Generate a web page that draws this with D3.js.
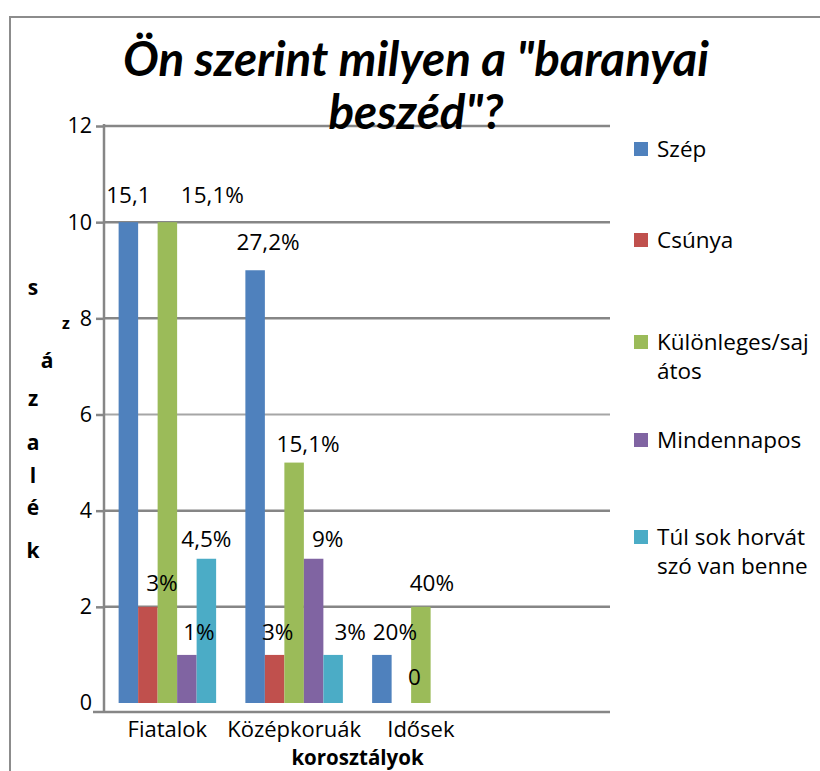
<!DOCTYPE html>
<html>
<head>
<meta charset="utf-8">
<script src="https://cdn.jsdelivr.net/npm/d3@7"></script>
<style>
  html, body { margin: 0; padding: 0; background: #ffffff; }
  svg { display: block; }
</style>
</head>
<body>
<script>
// ---------- DATA ----------
const categories = ["Fiatalok", "Középkoruák", "Idősek", ""];
const series = ["Szép", "Csúnya", "Különleges/sajátos", "Mindennapos", "Túl sok horvát szó van benne"];
const szep        = [10, 9, 1];
const csunya      = [2, 1, 0];
const kulonleges  = [10, 5, 2];
const mindennapos = [1, 3, 0];
const tulSok      = [3, 1, 0];
const szepLabels        = ["15,1", "27,2%", "20%"];
const csunyaLabels      = ["3%", "3%", "0"];
const kulonlegesLabels  = ["15,1%", "15,1%", "40%"];
const mindennaposLabels = ["1%", "9%", ""];
const tulSokLabels      = ["4,5%", "3%", ""];
const yTicks = [0, 2, 4, 6, 8, 10, 12];
const titleLines = ["Ön szerint milyen a \"baranyai", "beszéd\"?"];
const xTitle = "korosztályok";
const yTitleLetters = ["s", "z", "á", "z", "a", "l", "é", "k"];

// ---------- LAYOUT (not data) ----------
const colors = ["#4F81BD", "#C0504D", "#9BBB59", "#8064A2", "#4BACC6"];
// manual label nudges [dx, dy] relative to bar center / bar top
const labelNudge = [
  [[0, -27], [13, -28], [13, -23]],
  [[14, -24], [3, -23], [13, -26]],
  [[45, -27], [14, -19], [11, -24]],
  [[12, -23], [14, -20], [0, -23]],
  [[0, -20], [17, -23], [0, -23]]
];
const yTitlePos = [[33, 287, 21], [66, 323, 16], [47, 360, 21], [33, 398, 21], [33, 442, 21], [33, 475, 21], [33, 507, 21], [33, 550, 21]];
const legendBaselines = [157, 248, 350, 448, 545];

const values = [szep, csunya, kulonleges, mindennapos, tulSok];
const labels = [szepLabels, csunyaLabels, kulonlegesLabels, mindennaposLabels, tulSokLabels];

const W = 820, H = 771;
const FONT = "'Open Sans', 'DejaVu Sans', sans-serif";
const FS = 22.5;
const plotL = 104, plotR = 611, axisY = 712;

const svg = d3.select("body").append("svg").attr("width", W).attr("height", H)
  .style("font-family", FONT);

// outer border
svg.append("path").attr("d", `M10,${H} L10,17 L${W},17`)
  .attr("fill", "none").attr("stroke", "#8c8c8c").attr("stroke-width", 2);

const x0 = d3.scaleBand().domain(categories).range([plotL, plotR]);
const x1 = d3.scaleBand().domain(series).range([0, x0.bandwidth()]).paddingOuter(0.75);
const y = d3.scaleLinear().domain([0, 12]).range([703, 126]);

// gridlines
svg.append("g").selectAll("line").data(yTicks.filter(v => v > 0)).join("line")
  .attr("x1", plotL).attr("x2", plotR - 1)
  .attr("y1", d => y(d)).attr("y2", d => y(d))
  .attr("stroke", d => d === 6 ? "#a6a6a6" : "#868686")
  .attr("stroke-width", d => d === 6 ? 2 : 2.5);

// title
const title = svg.append("text").attr("text-anchor", "middle")
  .style("font-weight", "bold").style("font-style", "italic")
  .style("font-family", "Lato, 'Open Sans', sans-serif").attr("fill", "#000");
titleLines.forEach((t, i) => {
  title.append("tspan").attr("x", 416).attr("y", 76 + i * 53).text(t);
});
title.style("font-size", "40px");
const firstW = title.select("tspan").node().getComputedTextLength();
title.style("font-size", (40 * 586 / firstW).toFixed(2) + "px");

// bars
const groups = svg.append("g").selectAll("g").data(series).join("g")
  .attr("fill", (d, i) => colors[i]);
groups.each(function (s, si) {
  const g = d3.select(this);
  values[si].forEach((v, ci) => {
    const cx = x0(categories[ci]) + x1(s);
    g.append("rect").attr("x", cx).attr("width", x1.bandwidth())
      .attr("y", y(v)).attr("height", y(0) - y(v));
  });
});

// data labels
series.forEach((s, si) => {
  values[si].forEach((v, ci) => {
    const txt = labels[si][ci];
    if (!txt) return;
    const cx = x0(categories[ci]) + x1(s) + x1.bandwidth() / 2;
    const [dx, dy] = labelNudge[si][ci];
    svg.append("text").attr("x", cx + dx).attr("y", y(v) + dy)
      .attr("dy", "0.36em").attr("text-anchor", "middle")
      .style("font-size", FS + "px").attr("fill", "#000").text(txt);
  });
});

// y axis
const yAxis = svg.append("g").attr("transform", `translate(${plotL},0)`)
  .call(d3.axisLeft(y).tickValues(yTicks).tickSize(8).tickPadding(4).tickFormat(d3.format("d")));
yAxis.select(".domain").remove();
yAxis.selectAll(".tick line").attr("stroke", "#868686").attr("stroke-width", 2.5)
  .filter(d => d === 0).remove();
yAxis.selectAll(".tick text").style("font-size", "21.5px").style("font-family", FONT).attr("fill", "#000");
svg.append("line").attr("x1", plotL).attr("x2", plotL).attr("y1", y(12) - 2).attr("y2", axisY)
  .attr("stroke", "#868686").attr("stroke-width", 2.5);

// x axis
const xAxis = svg.append("g").attr("transform", `translate(0,${axisY})`)
  .call(d3.axisBottom(x0).tickSize(0).tickPadding(9));
xAxis.select(".domain").remove();
xAxis.selectAll(".tick text").style("font-size", "22px").style("font-family", FONT).attr("fill", "#000");
svg.append("line").attr("x1", 93).attr("x2", plotR - 1).attr("y1", axisY).attr("y2", axisY)
  .attr("stroke", "#868686").attr("stroke-width", 2.5);

// axis titles
svg.append("text").attr("x", (plotL + plotR) / 2).attr("y", 764.5).attr("text-anchor", "middle")
  .style("font-size", "20.5px").style("font-weight", "bold").attr("fill", "#000").text(xTitle);
yTitleLetters.forEach((ch, i) => {
  const [lx, ly, fs] = yTitlePos[i];
  svg.append("text").attr("x", lx).attr("y", ly).attr("dy", "0.36em").attr("text-anchor", "middle")
    .style("font-size", fs + "px").style("font-weight", "bold").attr("fill", "#000").text(ch);
});

// legend
const legend = svg.append("g").attr("transform", "translate(634,0)");
function wrap(text, maxW, fontSize) {
  const meas = svg.append("text").style("font-size", fontSize + "px");
  const w = t => { meas.text(t); return meas.node().getComputedTextLength(); };
  const lines = [];
  let cur = "";
  text.split(" ").forEach(word => {
    const cand = cur ? cur + " " + word : word;
    if (w(cand) <= maxW) { cur = cand; return; }
    if (cur) { lines.push(cur); cur = ""; }
    let piece = "";
    for (const c of word) {
      if (w(piece + c) <= maxW) piece += c;
      else { lines.push(piece); piece = c; }
    }
    cur = piece;
  });
  if (cur) lines.push(cur);
  meas.remove();
  return lines;
}
series.forEach((s, i) => {
  const bl = legendBaselines[i];
  legend.append("rect").attr("x", 0).attr("y", bl - 15).attr("width", 14).attr("height", 14)
    .attr("fill", colors[i]);
  const lines = wrap(s, 163, FS);
  const t = legend.append("text").style("font-size", FS + "px").attr("fill", "#000");
  lines.forEach((ln, li) => {
    t.append("tspan").attr("x", 23).attr("y", bl + li * 29).text(ln);
  });
});
</script>
</body>
</html>
